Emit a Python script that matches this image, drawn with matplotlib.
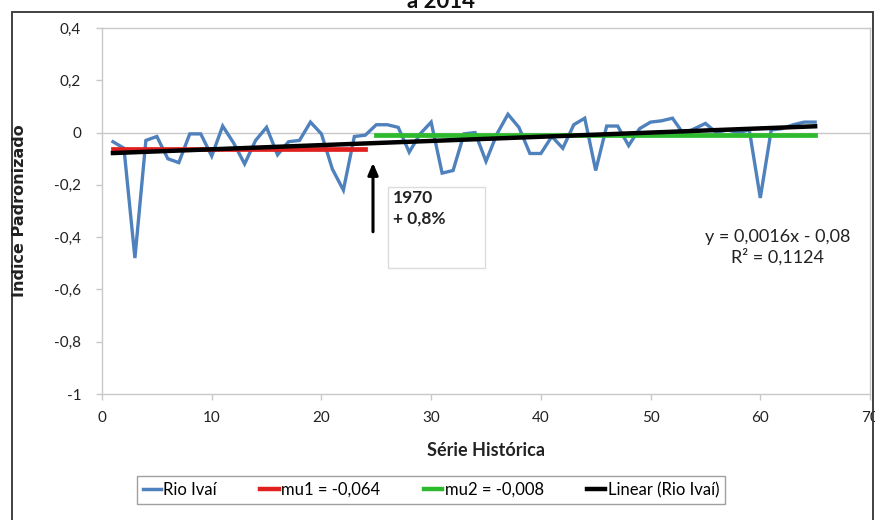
import matplotlib
matplotlib.use("Agg")
import matplotlib.pyplot as plt
import matplotlib.patches as mpatches
from matplotlib.lines import Line2D
import numpy as np

plt.rcParams['font.family'] = ['Lato', 'DejaVu Sans']

# ---- data ----
serie = list(range(1, 66))
rio_ivai = [-0.035, -0.06, -0.48, -0.03, -0.015, -0.10, -0.115, -0.005, -0.005, -0.09,
            0.025, -0.04, -0.12, -0.03, 0.02, -0.085, -0.035, -0.03, 0.04, -0.005,
            -0.14, -0.22, -0.015, -0.01, 0.03, 0.03, 0.02, -0.075, -0.005, 0.04,
            -0.155, -0.145, -0.005, 0.0, -0.11, -0.005, 0.07, 0.02, -0.08, -0.08,
            -0.015, -0.06, 0.03, 0.055, -0.145, 0.025, 0.025, -0.05, 0.015, 0.04,
            0.045, 0.055, -0.005, 0.015, 0.035, 0.0, 0.01, 0.0, 0.01, -0.25,
            0.01, 0.015, 0.03, 0.04, 0.04]
mu1 = -0.064
mu2 = -0.008
mu1_range = (1, 24)
mu2_range = (25, 65)
trend_slope = 0.0016
trend_intercept = -0.08
r2 = 0.1124

series_labels = ["Rio Ivaí", "mu1 = -0,064", "mu2 = -0,008", "Linear (Rio Ivaí)"]
xticks = [0, 10, 20, 30, 40, 50, 60, 70]
yticks = [0.4, 0.2, 0, -0.2, -0.4, -0.6, -0.8, -1]
ytick_labels = ["0,4", "0,2", "0", "-0,2", "-0,4", "-0,6", "-0,8", "-1"]

# ---- figure ----
W, H = 875, 520
fig = plt.figure(figsize=(W / 100, H / 100), dpi=100)
ax = fig.add_axes([102 / W, 1 - 394 / H, 768 / W, 366 / H])

blue = '#4f81bd'
red = '#e0201f'
green = '#2dbb2d'
black = '#000000'
grid = '#c8c8c8'

x = np.array(serie)
y = np.array(rio_ivai)
ax.plot(x, y, color=blue, lw=2.4, zorder=3, solid_joinstyle='miter')
ax.plot(mu1_range, [mu1, mu1], color=red, lw=3.4, zorder=4)
ax.plot(mu2_range, [mu2, mu2], color=green, lw=3.4, zorder=4)
xt = np.array([serie[0], serie[-1]])
ax.plot(xt, trend_slope * xt + trend_intercept, color=black, lw=3.2, zorder=5)

ax.set_xlim(0, 70)
ax.set_ylim(-1, 0.4)
ax.set_xticks(xticks)
ax.set_xticklabels([str(v) for v in xticks])
ax.set_yticks(yticks)
ax.set_yticklabels(ytick_labels)
ax.axhline(0, color=grid, lw=1.0, zorder=1)

for s in ax.spines.values():
    s.set_color(grid)
    s.set_linewidth(1.0)
ax.tick_params(axis='both', colors=grid, labelcolor='#222222', labelsize=11,
               length=4, width=1.0, direction='out')
ax.tick_params(axis='y', pad=11)
ax.tick_params(axis='x', pad=8)

# arrow annotation
ax.annotate('', xy=(24.7, -0.105), xytext=(24.7, -0.39),
            arrowprops=dict(arrowstyle='-|>,head_length=0.7,head_width=0.3',
                            color='black', lw=2.2), zorder=6)
box = mpatches.Rectangle((26.1, -0.517), 8.8, 0.307, facecolor='white',
                         edgecolor='#dcdcdc', lw=1.0, zorder=6)
ax.add_patch(box)
ax.text(26.5, -0.29, "1970\n+ 0,8%", ha='left', va='center', fontsize=12.5,
        fontweight='bold', color='#222222', linespacing=1.35, zorder=7)

ax.text(61.6, -0.44, "y = 0,0016x - 0,08\nR² = 0,1124", ha='center', va='center',
        fontsize=13, color='#222222', linespacing=1.2, zorder=7)

# axis titles
fig.text(20 / W, 1 - 211 / H, "Indice Padronizado", rotation=90, ha='center',
         va='center', fontsize=11.5, fontweight='bold', color='#222222',
         family=['DejaVu Sans'])
fig.text(486 / W, 1 - 451 / H, "Série Histórica", ha='center', va='center',
         fontsize=13, fontweight='bold', color='#222222')

# partially visible title
fig.text(441 / W, 1 - 8 / H, "a 2014", ha='center', va='baseline',
         fontsize=16, fontweight='bold', color='#111111')

# outer chart frame
frame = mpatches.Rectangle((12 / W, -0.1), 861 / W, 1 - 12 / H + 0.1,
                           transform=fig.transFigure, facecolor='none',
                           edgecolor='#333333', lw=1.3)
fig.patches.append(frame)

handles = [Line2D([], [], color=blue, lw=2.5),
           Line2D([], [], color=red, lw=3.2),
           Line2D([], [], color=green, lw=3.2),
           Line2D([], [], color=black, lw=3.2)]
leg = fig.legend(handles, series_labels, loc='center', bbox_to_anchor=(431 / W, 1 - 490 / H),
                 ncol=4, fontsize=12, frameon=True, fancybox=False, handlelength=1.1,
                 handletextpad=0.15, columnspacing=2.6, borderpad=0.35, borderaxespad=0)
leg.get_frame().set_edgecolor('#888888')
leg.get_frame().set_linewidth(1.0)

fig.savefig('out.png', dpi=100)
